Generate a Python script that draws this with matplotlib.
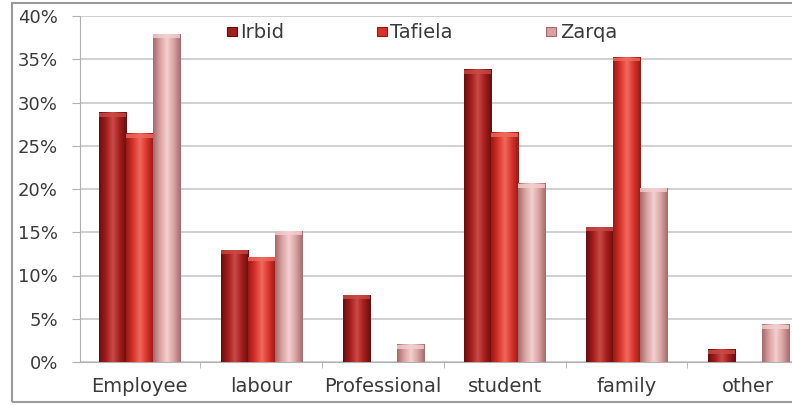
import numpy as np
import matplotlib
matplotlib.use("Agg")
import matplotlib.pyplot as plt
from matplotlib.colors import LinearSegmentedColormap
from matplotlib.patches import Rectangle
from matplotlib.ticker import PercentFormatter

categories = ["Employee", "labour", "Professional", "student", "family", "other"]
irbid = [28.8, 12.9, 7.7, 33.8, 15.6, 1.4]
tafiela = [26.4, 12.1, 0.0, 26.5, 35.2, 0.0]
zarqa = [37.9, 15.1, 2.0, 20.6, 20.1, 4.3]
series_names = ["Irbid", "Tafiela", "Zarqa"]
yticks = [0, 5, 10, 15, 20, 25, 30, 35, 40]

base_cols = ["#a31d1d", "#d8322a", "#d9a2a2"]
dark_cols = ["#6a0e0e", "#981a16", "#a56a6a"]
light_cols = ["#c94a46", "#f06a5e", "#f3d0d0"]

plt.rcParams['font.family'] = ['DejaVu Sans']
fig = plt.figure(figsize=(7.92, 4.05), dpi=100)
ax = fig.add_axes([80/792, 1-362/405, 712/792, 346/405])

x = np.arange(len(categories))
w = 0.222
data = [irbid, tafiela, zarqa]
grad = np.linspace(0, 1, 64).reshape(1, -1)
for i, (vals, name) in enumerate(zip(data, series_names)):
    bars = ax.bar(x + (i-1)*w, vals, width=w, color=base_cols[i], zorder=3,
                  edgecolor=dark_cols[i], linewidth=0.6, label=name)
    cmap = LinearSegmentedColormap.from_list(
        f"c{i}", [dark_cols[i], base_cols[i], light_cols[i], base_cols[i], dark_cols[i]])
    for b in bars:
        h = b.get_height()
        if h <= 0:
            continue
        x0 = b.get_x()
        ax.imshow(grad, extent=[x0, x0 + b.get_width(), 0, h], aspect='auto',
                  cmap=cmap, zorder=4, interpolation='bilinear')
        ax.add_patch(Rectangle((x0, h - 0.45), b.get_width(), 0.45,
                               facecolor=light_cols[i], edgecolor='none', zorder=5, alpha=0.8))

ax.set_yticks(yticks)
ax.yaxis.set_major_formatter(PercentFormatter(decimals=0))
ax.set_xticks(x)
ax.set_xticklabels(categories)
ax.set_xticks(np.arange(-0.5, 5.0, 1), minor=True)
ax.set_xlim(-0.49, 5.36)
ax.set_ylim(0, 40)
ax.tick_params(axis='x', which='major', length=0, pad=11, labelsize=14, labelcolor='#3a3a3a')
ax.tick_params(axis='x', which='minor', length=4, color='#b0b0b0')
ax.tick_params(axis='y', length=6, color='#b0b0b0', labelsize=13, labelcolor='#3a3a3a', pad=10)
ax.grid(axis='y', color='#c8c8c8', linewidth=1.2, zorder=0)
for s in ['top', 'right']:
    ax.spines[s].set_visible(False)
ax.spines['left'].set_color('#b0b0b0')
ax.spines['bottom'].set_color('#b0b0b0')

# legend entries (manual placement)
sq_x = [227, 377, 546]
tx_x = [240, 390, 560]
for i, name in enumerate(series_names):
    fig.patches.append(Rectangle((sq_x[i]/792, 1-36/405), 10/792, 9/405,
                                 transform=fig.transFigure, facecolor=base_cols[i],
                                 edgecolor=dark_cols[i], linewidth=0.8, zorder=6))
    fig.text(tx_x[i]/792, 1-32/405, name, fontsize=14, color='#3a3a3a', va='center', ha='left')

# outer frame
fig.patches.append(Rectangle((12/792, 3/405), 1, 1 - 6/405, transform=fig.transFigure,
                             fill=False, edgecolor='#9a9a9a', linewidth=1.5, zorder=0))
fig.savefig("out.png", dpi=100)
